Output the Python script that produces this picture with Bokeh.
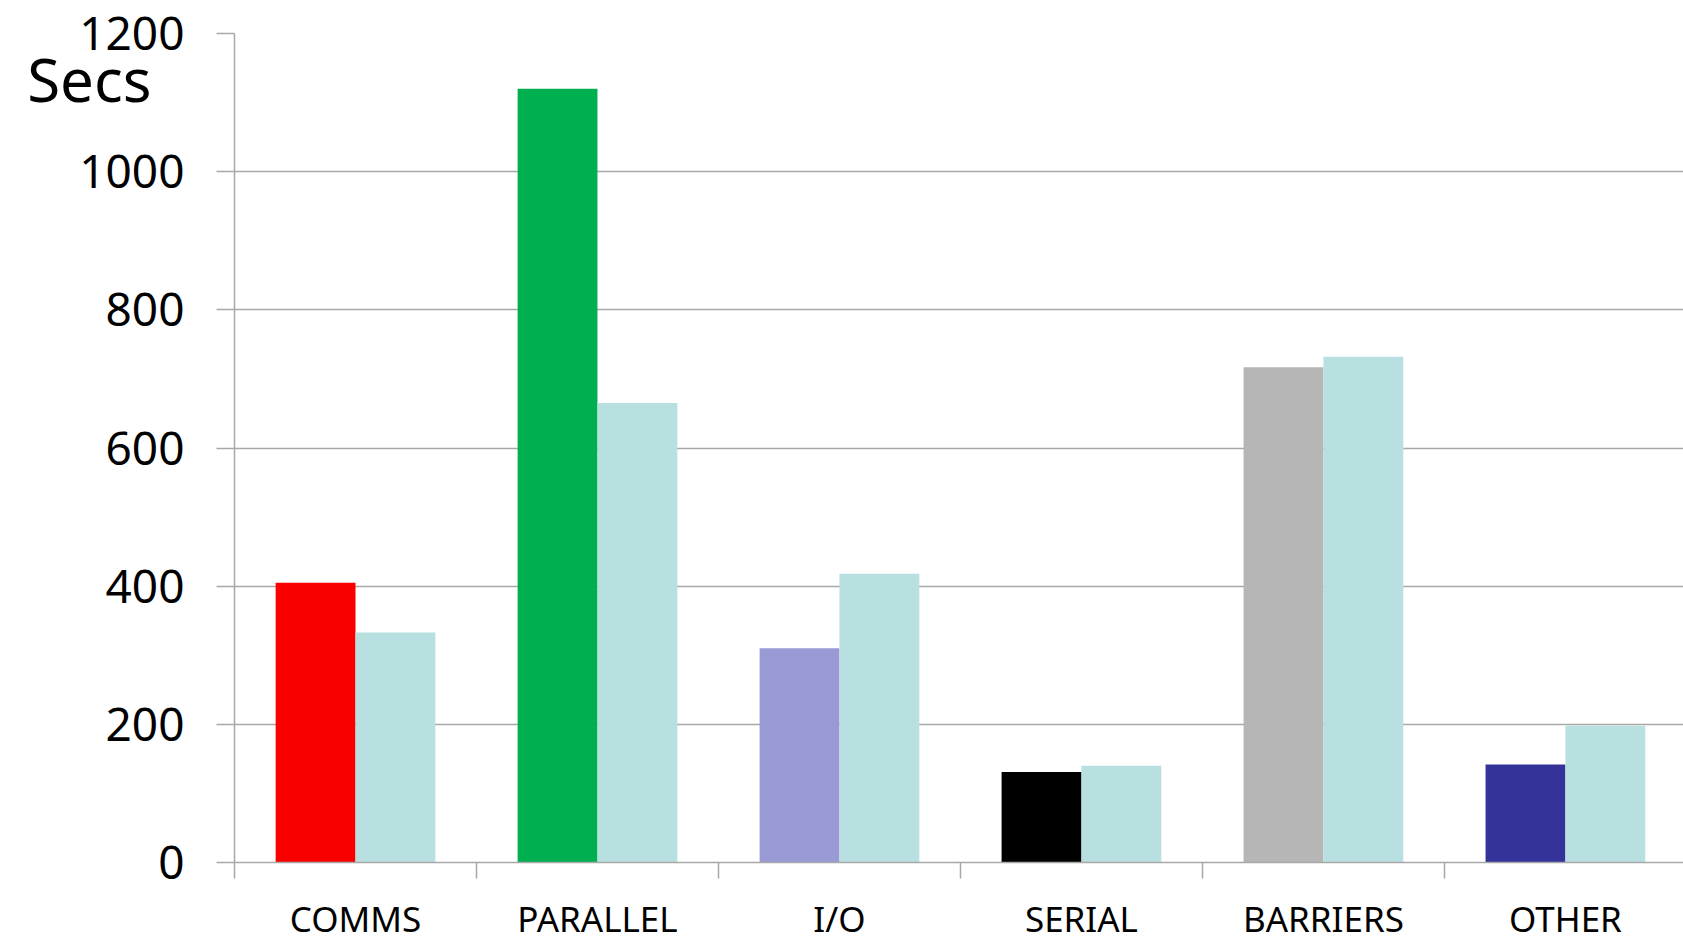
from bokeh.plotting import figure
from bokeh.models import Range1d, FixedTicker, LinearAxis, ColumnDataSource
from bokeh.embed import file_html
from bokeh.resources import INLINE
import numpy as np

categories = ["COMMS", "PARALLEL", "I/O", "SERIAL", "BARRIERS", "OTHER"]
primary_values = [405, 1120, 310, 131, 717, 142]
secondary_values = [333, 665, 418, 140, 732, 198]
primary_colors = ["#F80000", "#00B050", "#9999D6", "#000000", "#B6B6B6", "#333399"]
secondary_color = "#B8E0E0"
y_ticks = [0, 200, 400, 600, 800, 1000, 1200]
y_label = "Secs"
y_label_at = 1134

FONT = "Noto Sans"
GRID = "#A8A8A8"

centers = np.arange(len(categories)) + 0.5
src = ColumnDataSource(dict(
    x1=centers - 0.165, x2=centers + 0.165,
    top1=primary_values, top2=secondary_values,
    color=primary_colors,
))

p = figure(width=1683, height=944,
           min_border_left=234, min_border_top=33, min_border_right=0, min_border_bottom=82,
           x_range=Range1d(0, 5.988), y_range=Range1d(0, 1200),
           output_backend="svg", toolbar_location=None)
p.outline_line_color = None
p.background_fill_color = "white"
p.border_fill_color = "white"

p.vbar(x="x1", top="top1", width=0.33, bottom=0, fill_color="color", line_color=None, source=src)
p.vbar(x="x2", top="top2", width=0.33, bottom=0, fill_color=secondary_color, line_color=None, source=src)

# x axis
xa = p.below[0]
xa.ticker = FixedTicker(ticks=list(centers), minor_ticks=list(range(len(categories) + 1)))
xa.major_label_overrides = {float(c): n for c, n in zip(centers, categories)}
xa.major_tick_line_color = None
xa.major_tick_out = 0
xa.major_tick_in = 0
xa.minor_tick_out = 16
xa.minor_tick_in = 0
xa.minor_tick_line_color = GRID
xa.minor_tick_line_width = 1.5
xa.axis_line_color = GRID
xa.axis_line_width = 1.5
xa.major_label_standoff = 16
xa.major_label_text_font = FONT
xa.major_label_text_font_size = "35px"
xa.major_label_text_color = "black"
p.xgrid.grid_line_color = None

# y axis
ya = p.left[0]
ya.ticker = FixedTicker(ticks=y_ticks)
ya.minor_tick_line_color = None
ya.major_tick_out = 18
ya.major_tick_in = 0
ya.major_tick_line_color = GRID
ya.major_tick_line_width = 1.5
ya.axis_line_color = GRID
ya.axis_line_width = 1.5
ya.major_label_standoff = 32
ya.major_label_text_font = FONT
ya.major_label_text_font_size = "46px"
ya.major_label_text_color = "black"
p.ygrid.grid_line_color = GRID
p.ygrid.grid_line_width = 1.5
p.ygrid.ticker = FixedTicker(ticks=y_ticks)

# "Secs" unit label as an outer left axis label
sa = LinearAxis(ticker=FixedTicker(ticks=[y_label_at]),
                major_label_overrides={y_label_at: y_label},
                axis_line_color=None, major_tick_line_color=None, minor_tick_line_color=None,
                major_tick_out=0, major_tick_in=0, minor_tick_out=0, minor_tick_in=0,
                major_label_standoff=-75,
                major_label_text_font=FONT, major_label_text_font_size="60px",
                major_label_text_color="black")
p.add_layout(sa, "left")

open("out.html", "w").write(file_html(p, INLINE))
